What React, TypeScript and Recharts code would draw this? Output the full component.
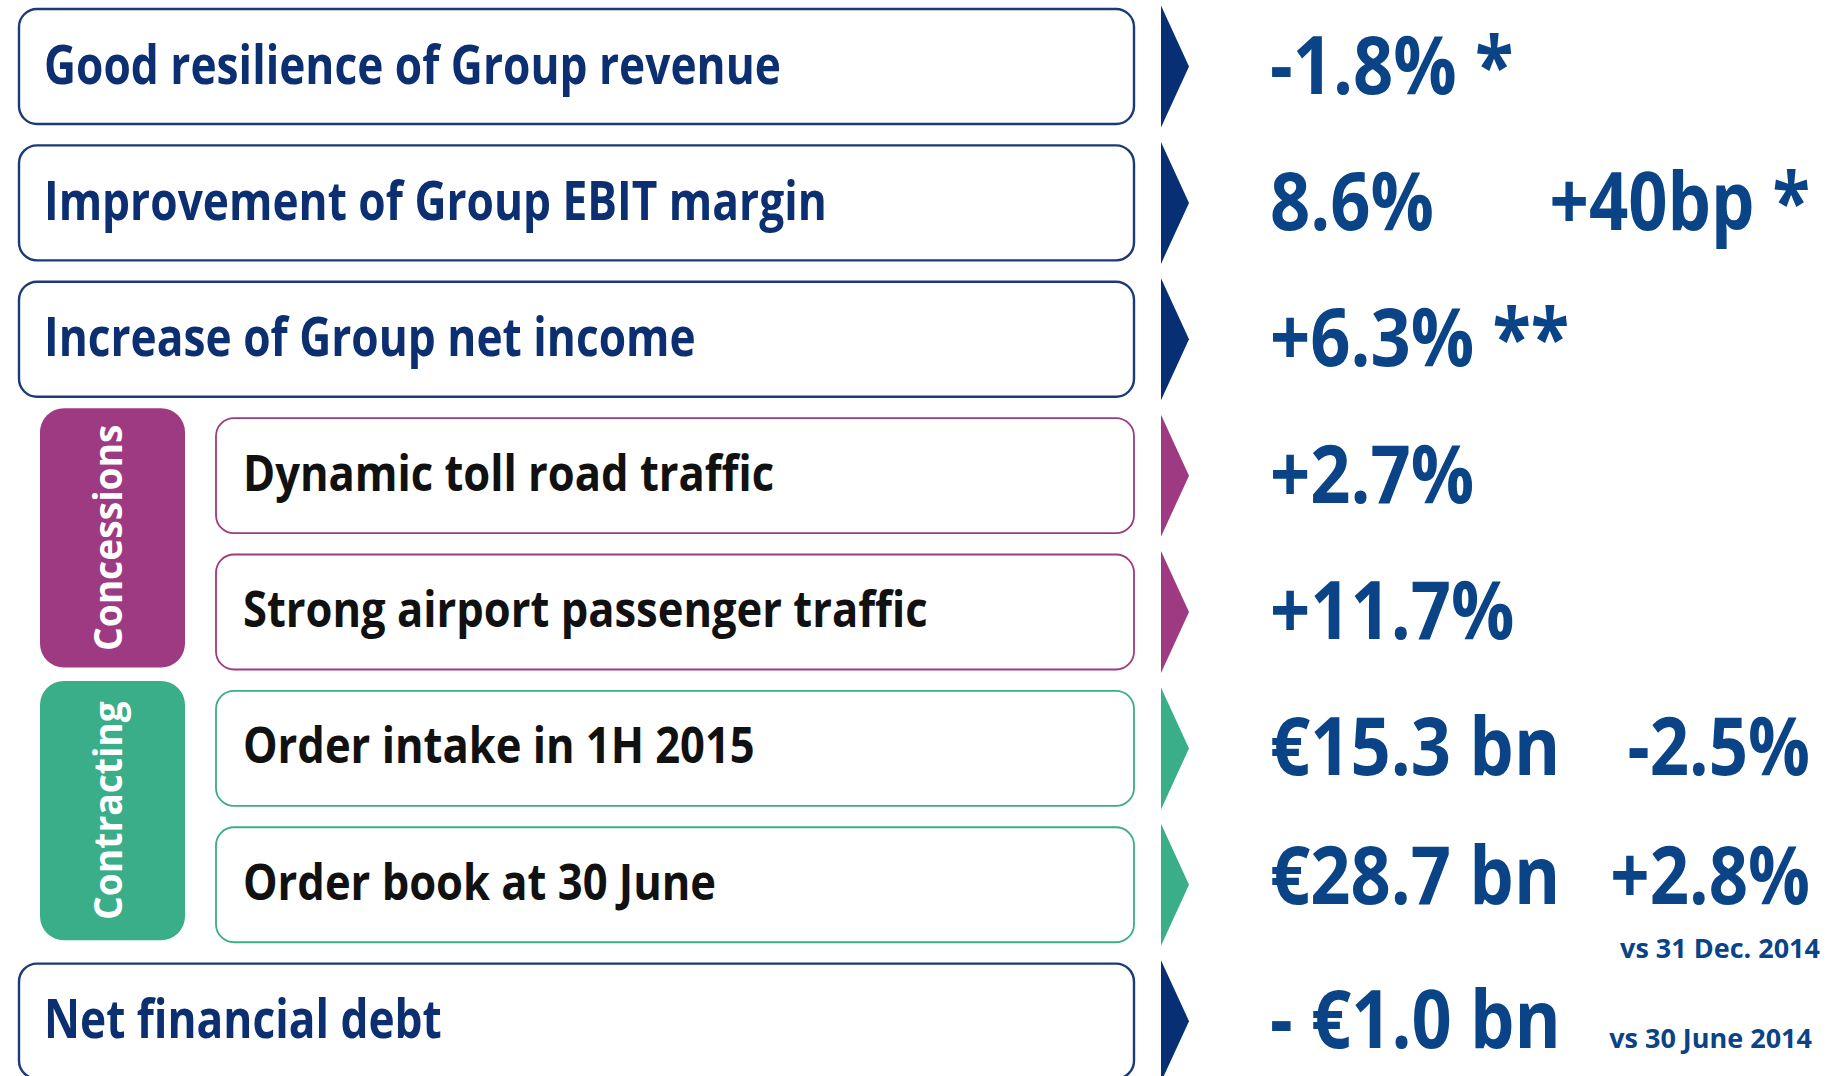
import React from "react";
import { BarChart, Bar, XAxis, YAxis } from "recharts";

// ---- data ----
const rowLabels = [
  "Good resilience of Group revenue",
  "Improvement of Group EBIT margin",
  "Increase of Group net income",
  "Dynamic toll road traffic",
  "Strong airport passenger traffic",
  "Order intake in 1H 2015",
  "Order book at 30 June",
  "Net financial debt",
];
const rowValues = ["-1.8% *", "8.6%", "+6.3% **", "+2.7%", "+11.7%", "€15.3 bn", "€28.7 bn", "- €1.0 bn"];
const rowChanges = ["", "+40bp *", "", "", "", "-2.5%", "+2.8%", ""];
const rowNotes = ["", "", "", "", "", "", "vs 31 Dec. 2014", "vs 30 June 2014"];
const rowSegments = ["Group", "Group", "Group", "Concessions", "Concessions", "Contracting", "Contracting", "Group"];
const panelFill = [100, 100, 100, 100, 100, 100, 100, 100];

const data = rowLabels.map((label, i) => ({
  label,
  value: rowValues[i],
  change: rowChanges[i],
  note: rowNotes[i],
  segment: rowSegments[i],
  panel: panelFill[i],
}));

// ---- style ----
const W = 1839;
const H = 1091;
const BAND = H / rowLabels.length;
const BAR = 115;
const FONT = "'Open Sans', 'Noto Sans', sans-serif";
const NAVY = "#0b2f70";
const VALUE = "#0a4386";
const SEG_COLOR: Record<string, string> = {
  Group: "#062f74",
  Concessions: "#9d3a82",
  Contracting: "#3aad89",
};

function SText(props: any) {
  const { x, y, sx = 1, anchor = "start", size, weight = 700, fill, children } = props;
  return (
    <text
      transform={`translate(${x},${y}) scale(${sx},1)`}
      x={0}
      y={0}
      textAnchor={anchor}
      fontFamily={FONT}
      fontSize={size}
      fontWeight={weight}
      fill={fill}
    >
      {children}
    </text>
  );
}

function RowShape(props: any) {
  const { x, y, width, height, index, payload } = props;
  const seg = payload.segment;
  const color = SEG_COLOR[seg];
  const grouped = seg !== "Group";
  const left = grouped ? x + 197 : x;
  const right = x + width;
  const cy = y + height / 2;
  const firstOfSegment = grouped && (index === 0 || rowSegments[index - 1] !== seg);
  const arrowX = right + 27;
  const noteBelow = !!(payload.note && payload.change);
  const valueY = noteBelow ? cy + 19 : cy + 27;
  return (
    <g>
      {firstOfSegment && (
        <g>
          <rect x={40} y={y - 10} width={145} height={BAND + height + 8} rx={24} ry={24} fill={color} />
          <text
            transform={`translate(122,${y - 10 + (BAND + height + 8) / 2}) rotate(-90) scale(0.93,1)`}
            textAnchor="middle"
            fontFamily={FONT}
            fontSize={40}
            fontWeight={700}
            fill="#ffffff"
          >
            {seg}
          </text>
        </g>
      )}
      <rect
        x={left}
        y={y}
        width={right - left}
        height={height}
        rx={18}
        ry={18}
        fill="#ffffff"
        stroke={grouped ? color : "#1c3a78"}
        strokeWidth={grouped ? 1.8 : 2.4}
      />
      <SText
        x={left + (grouped ? 27 : 25)}
        y={cy + (grouped ? 15 : 17)}
        sx={grouped ? 0.87 : 0.82}
        size={grouped ? 50 : 54}
        fill={grouped ? "#111111" : NAVY}
      >
        {payload.label}
      </SText>
      <polygon points={`${arrowX},${cy - 61} ${arrowX + 28},${cy} ${arrowX},${cy + 61}`} fill={color} />
      <SText x={1270} y={valueY} sx={0.88} size={80} fill={VALUE}>
        {payload.value}
      </SText>
      {payload.change && (
        <SText x={1810} y={valueY} anchor="end" sx={0.86} size={80} fill={VALUE}>
          {payload.change}
        </SText>
      )}
      {payload.note && (
        <SText x={noteBelow ? 1820 : 1812} y={noteBelow ? cy + 73 : cy + 27} anchor="end" sx={1} size={27} fill={VALUE}>
          {payload.note}
        </SText>
      )}
    </g>
  );
}

export default function App() {
  return (
    <div style={{ position: "fixed", left: 0, top: 0, width: W, height: 1076, overflow: "hidden", background: "#ffffff" }}>
      <div style={{ position: "absolute", left: 0, top: -2 }}>
        <BarChart
          width={W}
          height={H}
          layout="vertical"
          data={data}
          margin={{ top: 0, right: 705, bottom: 0, left: 19 }}
          barSize={BAR}
        >
          <XAxis type="number" domain={[0, 100]} hide />
          <YAxis type="category" dataKey="label" hide />
          <Bar dataKey="panel" isAnimationActive={false} shape={(p: any) => <RowShape {...p} />} />
        </BarChart>
      </div>
    </div>
  );
}
